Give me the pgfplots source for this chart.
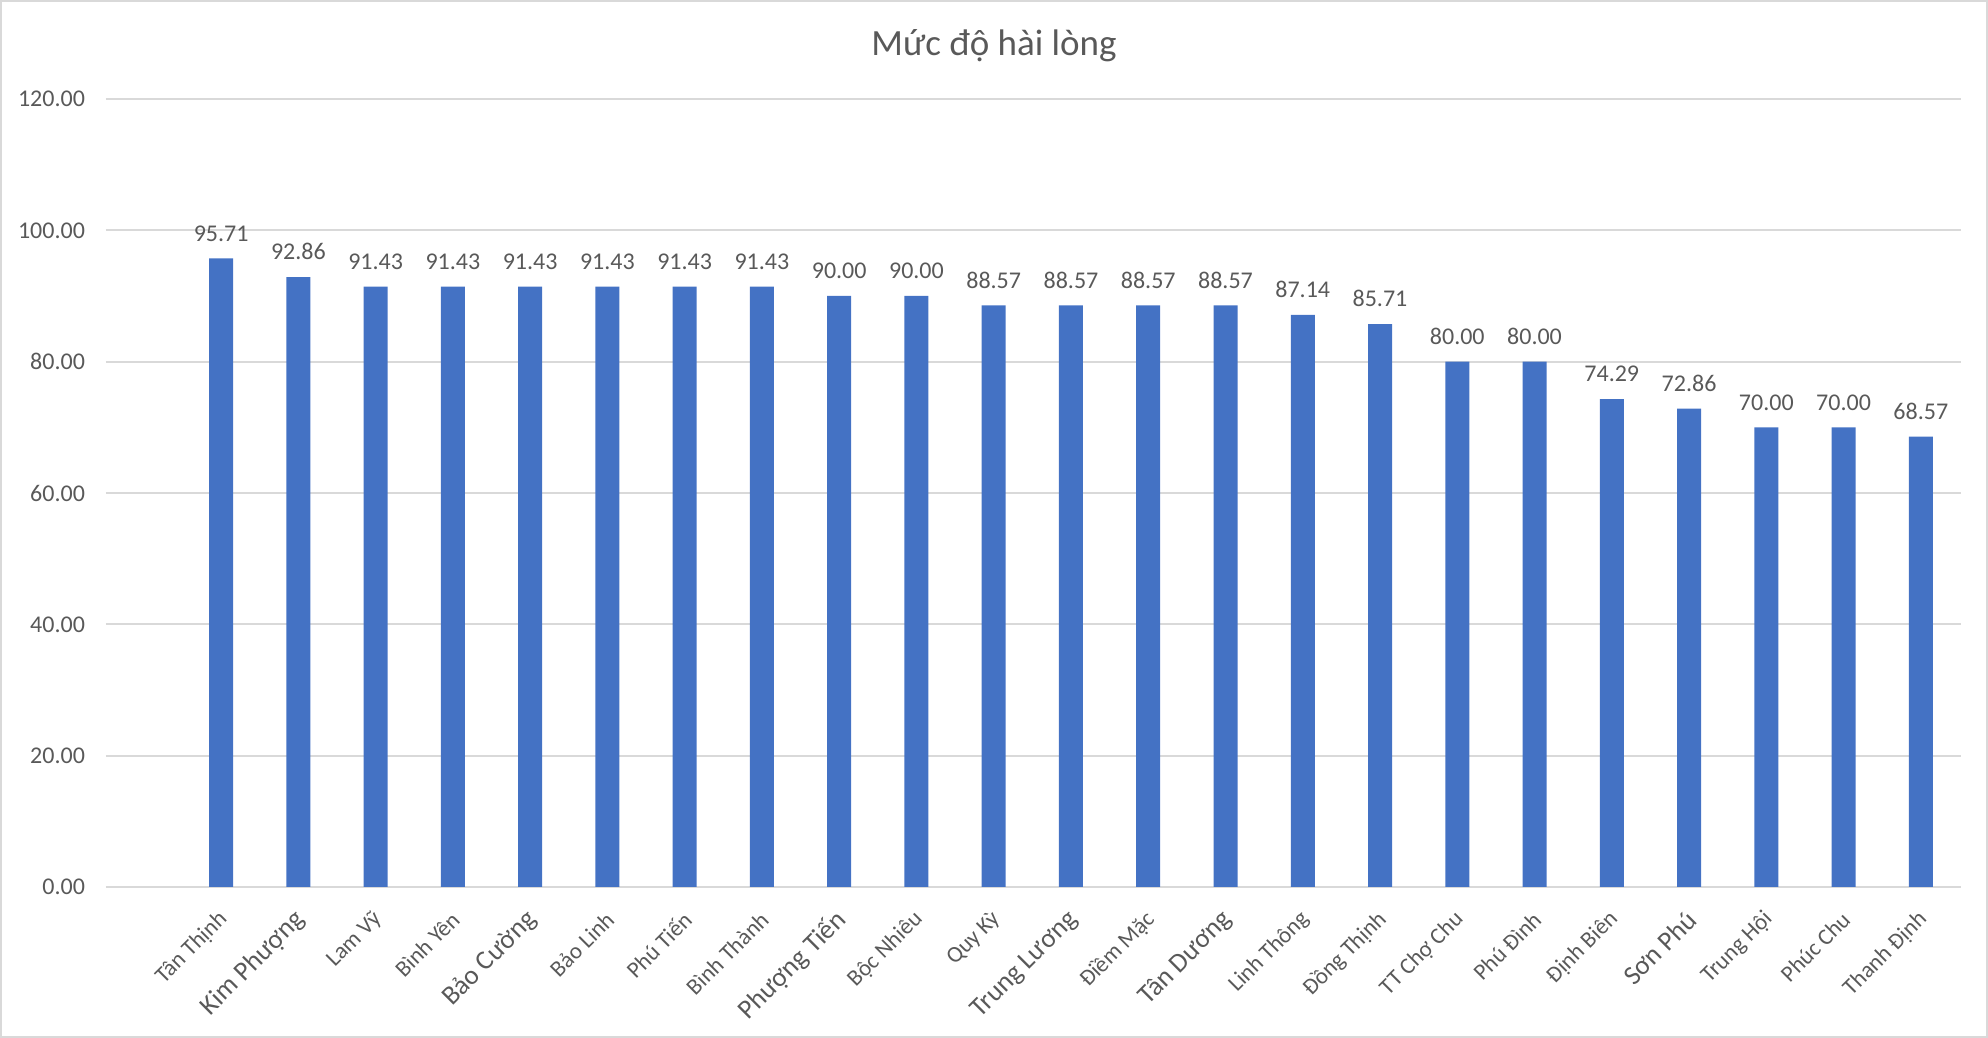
\documentclass[border=0pt]{standalone}
\usepackage{fontspec}
\setmainfont{Carlito}
\usepackage{pgfplots}
\pgfplotsset{compat=1.18}
\definecolor{barblue}{HTML}{4472C4}
\definecolor{txt}{HTML}{595959}
\definecolor{gridc}{HTML}{D9D9D9}
\newcommand{\biglbl}[1]{{\fontsize{13.5}{15}\selectfont #1}}
\begin{document}
\begin{tikzpicture}
\useasboundingbox (0,0) rectangle (994pt,519pt);
\draw[gridc, line width=0.8pt] (0.4pt,0.4pt) rectangle (993.6pt,518.6pt);
\node[txt, font=\fontsize{18.5}{22}\selectfont] at (497pt,496pt) {Mức độ hài lòng};
\begin{axis}[
  at={(53pt,75.5pt)}, anchor=south west,
  scale only axis, width=927.5pt, height=394pt,
  xmin=-1.49, xmax=22.52, ymin=0, ymax=120,
  ytick={0,20,...,120},
  ymajorgrids, grid style={gridc, line width=1pt},
  axis line style={draw=none}, tick style={draw=none},
  xtick={0,...,22},
  xticklabels={Tân Thịnh, \biglbl{Kim Phượng}, Lam Vỹ, Bình Yên, \biglbl{Bảo Cường}, Bảo Linh, Phú Tiến, Bình Thành, \biglbl{Phượng Tiến}, Bộc Nhiêu, Quy Kỳ, \biglbl{Trung Lương}, Điềm Mặc, \biglbl{Tân Dương}, Linh Thông, Đồng Thịnh, TT Chợ Chu, Phú Đình, Định Biên, \biglbl{Sơn Phú}, Trung Hội, Phúc Chu, Thanh Định},
  xticklabel style={txt, font=\fontsize{11.5}{13}\selectfont, xshift=3.8pt, yshift=-12pt, rotate=45, anchor=east},
  yticklabel style={txt, font=\fontsize{12}{14}\selectfont},
  yticklabel shift=7pt,
  /pgf/number format/.cd, fixed, fixed zerofill, precision=2, assume math mode=true,
]
\addplot[ybar, bar width=12pt, fill=barblue, draw=none,
  nodes near coords,
  every node near coord/.append style={txt, font=\fontsize{12}{14}\selectfont, yshift=5pt}]
coordinates {
(0,95.71) (1,92.86) (2,91.43) (3,91.43) (4,91.43) (5,91.43) (6,91.43) (7,91.43)
(8,90.00) (9,90.00) (10,88.57) (11,88.57) (12,88.57) (13,88.57) (14,87.14) (15,85.71)
(16,80.00) (17,80.00) (18,74.29) (19,72.86) (20,70.00) (21,70.00) (22,68.57)
};
\end{axis}
\end{tikzpicture}
\end{document}
